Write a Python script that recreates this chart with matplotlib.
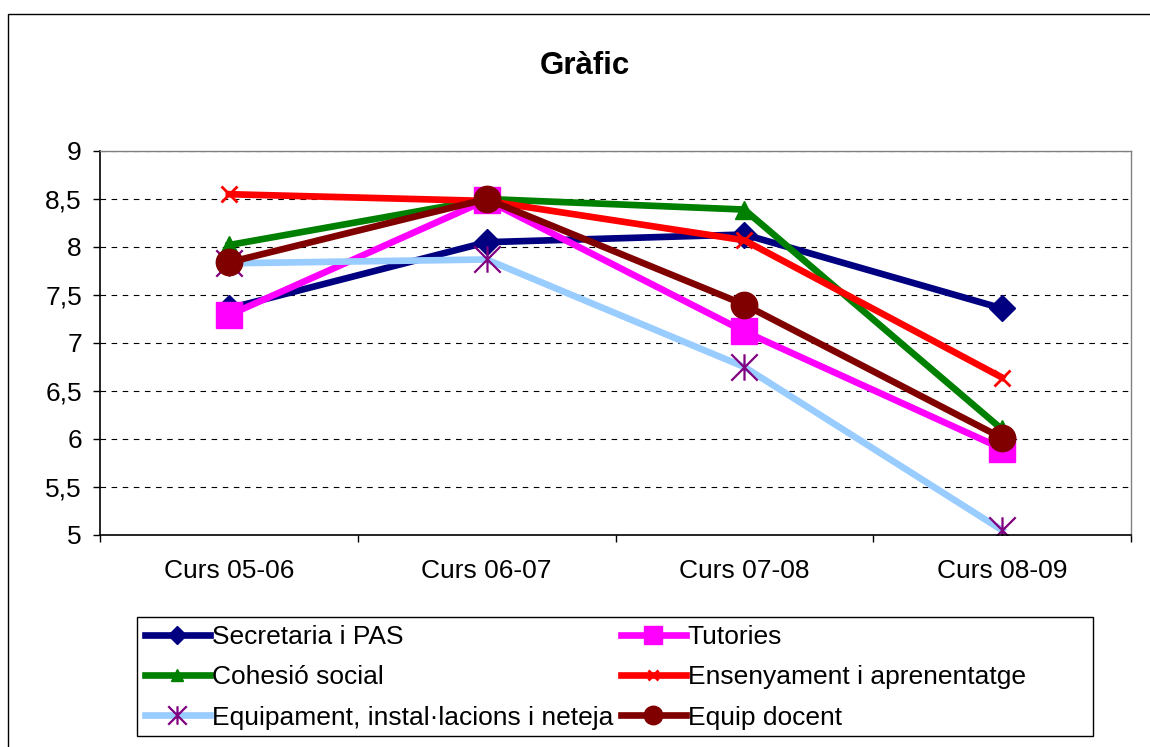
import matplotlib
matplotlib.use('Agg')
import matplotlib.pyplot as plt
from matplotlib.path import Path
from matplotlib.patches import Rectangle

plt.rcParams['font.family'] = ['Liberation Sans', 'DejaVu Sans']

# Dades
cursos = ['Curs 05-06', 'Curs 06-07', 'Curs 07-08', 'Curs 08-09']
secretaria = [7.36, 8.05, 8.13, 7.36]
tutories = [7.29, 8.49, 7.12, 5.90]
cohesio = [8.02, 8.50, 8.39, 6.10]
ensenyament = [8.55, 8.48, 8.07, 6.64]
equipament = [7.83, 7.87, 6.75, 5.05]
equip_docent = [7.84, 8.50, 7.40, 6.01]

y_ticks = [5, 5.5, 6, 6.5, 7, 7.5, 8, 8.5, 9]

# marcador asterisc estil Excel (X + línia vertical)
asterisc = Path([(0, -1), (0, 1), (-1, -1), (1, 1), (-1, 1), (1, -1)],
                [Path.MOVETO, Path.LINETO, Path.MOVETO, Path.LINETO,
                 Path.MOVETO, Path.LINETO])

fig = plt.figure(figsize=(11.5, 7.47), dpi=100)
ax = fig.add_axes([100 / 1150, 1 - 535 / 747, 1031 / 1150, 384 / 747])

x = range(len(cursos))
lw = 4.8

l1, = ax.plot(x, secretaria, color='#000080', lw=lw, marker='D', ms=13.5,
              label='Secretaria i PAS')
l2, = ax.plot(x, tutories, color='#FF00FF', lw=lw, marker='s', ms=18.5,
              label='Tutories')
l3, = ax.plot(x, cohesio, color='#008000', lw=lw, marker='^', ms=13,
              label='Cohesió social')
l4, = ax.plot(x, ensenyament, color='#FF0000', lw=lw, marker='x', ms=11,
              mew=2, label='Ensenyament i aprenentatge')
l5, = ax.plot(x, equipament, color='#99CCFF', lw=lw, marker=asterisc, ms=19,
              mec='#800080', mfc='none', mew=1.6,
              label='Equipament, instal·lacions i neteja')
l6, = ax.plot(x, equip_docent, color='#800000', lw=lw, marker='o', ms=19,
              label='Equip docent')

ax.set_xlim(-0.5, len(cursos) - 0.5)
ax.set_ylim(5, 9)
ax.set_yticks(y_ticks)
ax.set_yticklabels([('%g' % v).replace('.', ',') for v in y_ticks])
ax.set_xticks(list(x))
ax.set_xticklabels(cursos)
ax.set_xticks([i - 0.5 for i in range(len(cursos) + 1)], minor=True)
ax.tick_params(axis='x', which='major', length=0, pad=17, labelsize=19)
ax.tick_params(axis='x', which='minor', length=5, width=1, direction='out')
ax.tick_params(axis='y', length=5, width=1, pad=8, labelsize=19)

ax.yaxis.grid(True, color='black', linestyle=(0, (5, 5)), lw=0.8)
ax.set_axisbelow(True)
for s in ['top', 'right']:
    ax.spines[s].set_color('#808080')
    ax.spines[s].set_linewidth(1)
for s in ['left', 'bottom']:
    ax.spines[s].set_color('black')
    ax.spines[s].set_linewidth(1.2)

fig.text(585 / 1150, 1 - 66 / 747, 'Gràfic', ha='center', va='center',
         fontsize=22.5, fontweight='bold')

# ordre per files com a Excel: la llegenda de matplotlib omple per columnes
handles = [l1, l3, l5, l2, l4, l6]
leg = fig.legend(handles, [h.get_label() for h in handles],
                 loc='upper left', bbox_to_anchor=(137 / 1150, 1 - 617 / 747),
                 ncol=2, fontsize=19, frameon=False,
                 handlelength=2.45, handletextpad=0.08,
                 columnspacing=0.3, labelspacing=0.62, borderpad=0.3,
                 borderaxespad=0, markerscale=0.7)

# marc de la llegenda (més ample que el contingut, com a l'original)
fig.patches.append(Rectangle((137 / 1150, 1 - 736 / 747), 956 / 1150,
                             119 / 747, transform=fig.transFigure,
                             fill=False, edgecolor='black', lw=1))

# vora exterior del gràfic
fig.patches.append(Rectangle((8 / 1150, -0.05), 1.1, 1 - 14 / 747 + 0.05,
                             transform=fig.transFigure, fill=False,
                             edgecolor='black', lw=1))

fig.savefig('out.png', dpi=100)
